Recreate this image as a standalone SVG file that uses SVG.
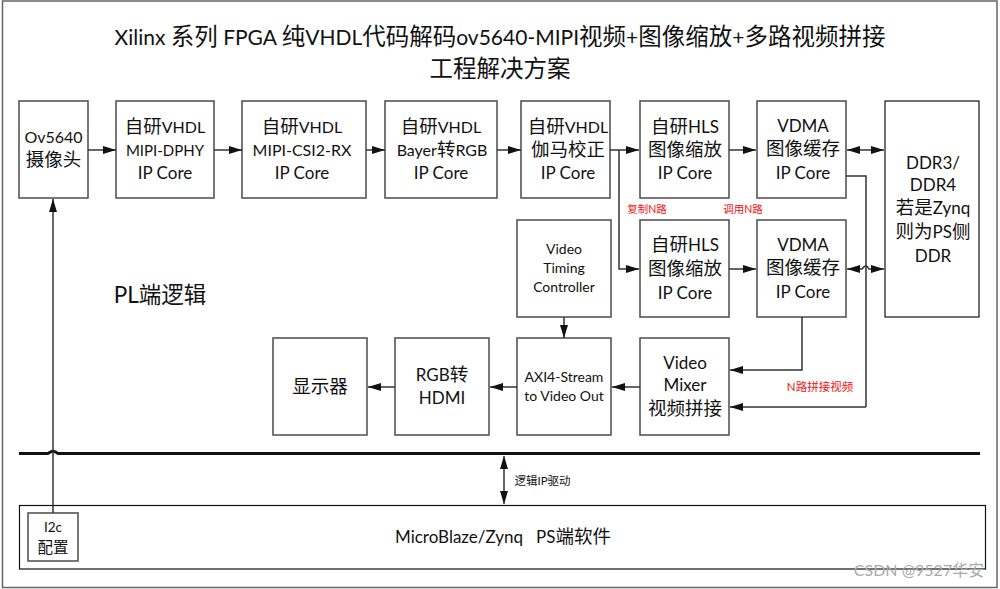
<svg xmlns="http://www.w3.org/2000/svg" width="1000" height="589" viewBox="0 0 1000 589">
<defs>
<style>
text{font-family:"Lato","Noto Sans CJK SC",sans-serif;text-anchor:middle;fill:#111;white-space:pre}
.b{fill:#fff;stroke:#555;stroke-width:1.6}
.k{fill:#fff;stroke:#111;stroke-width:1.2}
.t{font-size:17px}
.z{font-size:18.500px}
.h{font-size:23.500px}
.l{font-size:21px}
.n{font-size:15px}
.m{font-size:16px}
.x{font-size:14px}
.r{font-size:10.500px;fill:#f01010}
.c{fill:none;stroke:#333;stroke-width:1.5}
</style>
<marker id="a" markerWidth="14" markerHeight="10" refX="13" refY="4" orient="auto-start-reverse" markerUnits="userSpaceOnUse"><path d="M0 0L13 4L0 8Z" fill="#111"/></marker>
</defs>
<rect width="1000" height="589" fill="#fff"/>
<rect id="frame" x="2.500" y="1" width="994.500" height="586.500" fill="#fff" stroke="#666" stroke-width="1.500"/>
<g id="title"><text class="h" x="500" y="45"><tspan class="l">Xilinx </tspan>系列<tspan class="l"> FPGA </tspan>纯<tspan class="l">VHDL</tspan>代码解码<tspan class="l">ov5640-MIPI</tspan>视频<tspan class="l">+</tspan>图像缩放<tspan class="l">+</tspan>多路视频拼接</text>
<text class="h" x="500" y="77">工程解决方案</text></g>
<g id="ov5640"><rect class="b" x="19" y="101" width="69" height="97"/><text class="m" x="53.500" y="143">Ov5640</text><text class="z" x="53.500" y="166">摄像头</text></g>
<g id="dphy"><rect class="b" x="116" y="101" width="98" height="97"/><text class="m" x="165" y="133"><tspan class="z">自研</tspan>VHDL</text><text class="n" x="165" y="156">MIPI-DPHY</text><text class="t" x="165" y="179">IP Core</text></g>
<g id="csi"><rect class="b" x="242" y="101" width="124" height="97"/><text class="m" x="302" y="133"><tspan class="z">自研</tspan>VHDL</text><text class="m" x="302" y="156">MIPI-CSI2-RX</text><text class="t" x="302" y="179">IP Core</text></g>
<g id="bayer"><rect class="b" x="385" y="101" width="112" height="97"/><text class="m" x="441" y="133"><tspan class="z">自研</tspan>VHDL</text><text class="m" x="442" y="156">Bayer<tspan class="z">转</tspan>RGB</text><text class="t" x="441" y="179">IP Core</text></g>
<g id="gamma"><rect class="b" x="521" y="101" width="89" height="97"/><text class="m" x="568" y="133"><tspan class="z">自研</tspan>VHDL</text><text class="z" x="568" y="156">伽马校正</text><text class="t" x="568" y="179">IP Core</text></g>
<g id="hls1"><rect class="b" x="640" y="101" width="89" height="97"/><text class="t" x="685" y="133"><tspan class="z">自研</tspan>HLS</text><text class="z" x="685" y="156">图像缩放</text><text class="t" x="685" y="179">IP Core</text></g>
<g id="vdma1"><rect class="b" x="757" y="101" width="89" height="97"/><text class="t" x="803" y="132">VDMA</text><text class="z" x="803" y="155">图像缓存</text><text class="t" x="803" y="179">IP Core</text></g>
<g id="ddr"><rect class="k" x="885" y="101" width="94" height="216"/><text class="t" x="933" y="169">DDR3/</text><text class="t" x="933" y="191">DDR4</text><text class="z" x="933" y="214">若是<tspan class="t">Zynq</tspan></text><text class="z" x="933" y="238">则为<tspan class="t">PS</tspan>侧</text><text class="t" x="933" y="262">DDR</text></g>
<g id="vtc"><rect class="b" x="517" y="220" width="94" height="97"/><text class="x" x="564" y="254">Video</text><text class="x" x="564" y="273">Timing</text><text class="x" x="564" y="292">Controller</text></g>
<g id="hls2"><rect class="b" x="640" y="220" width="89" height="97"/><text class="t" x="685" y="251"><tspan class="z">自研</tspan>HLS</text><text class="z" x="685" y="275">图像缩放</text><text class="t" x="685" y="299">IP Core</text></g>
<g id="vdma2"><rect class="b" x="757" y="220" width="89" height="97"/><text class="t" x="803" y="251">VDMA</text><text class="z" x="803" y="274">图像缓存</text><text class="t" x="803" y="298">IP Core</text></g>
<g id="mixer"><rect class="b" x="640" y="338" width="89" height="97"/><text class="t" x="685" y="369">Video</text><text class="t" x="685" y="391">Mixer</text><text class="z" x="685" y="415">视频拼接</text></g>
<g id="axi"><rect class="b" x="517" y="338" width="94" height="97"/><text class="x" x="564" y="382">AXI4-Stream</text><text class="x" x="564" y="401">to Video Out</text></g>
<g id="rgb"><rect class="b" x="395" y="338" width="94" height="97"/><text class="t" x="442" y="381">RGB<tspan class="z">转</tspan></text><text class="t" x="442" y="404">HDMI</text></g>
<g id="display"><rect class="b" x="273" y="338" width="94" height="97"/><text class="z" x="320" y="393">显示器</text></g>
<g id="ps"><rect class="k" x="19.500" y="505.500" width="966" height="63.500"/><text class="t" x="503" y="543">MicroBlaze/Zynq   PS<tspan class="z">端软件</tspan></text></g>
<g id="i2c"><rect class="b" x="28" y="513" width="50" height="48"/><text x="53" y="532" font-size="13.500">I2c</text><text x="53" y="553" font-size="15.500">配置</text></g>
<g id="connectors">
<path class="c" marker-end="url(#a)" d="M88 150H116"/>
<path class="c" marker-end="url(#a)" d="M214 150H242"/>
<path class="c" marker-end="url(#a)" d="M366 150H385"/>
<path class="c" marker-end="url(#a)" d="M497 150H521"/>
<path class="c" marker-end="url(#a)" d="M610 150H639"/>
<path class="c" marker-end="url(#a)" d="M619 150V269H639"/>
<path class="c" marker-end="url(#a)" d="M729 150H756"/>
<path class="c" marker-end="url(#a)" d="M729 269H756"/>
<path class="c" marker-start="url(#a)" marker-end="url(#a)" d="M847 150H884"/>
<path class="c" marker-start="url(#a)" marker-end="url(#a)" d="M847 269H862Q866 263 869 269H884"/>
<path class="c" d="M846 176H866V407"/>
<path class="c" marker-end="url(#a)" d="M866 407H730"/>
<path class="c" marker-end="url(#a)" d="M802 317V370H730"/>
<path class="c" marker-end="url(#a)" d="M564 317V338"/>
<path class="c" marker-end="url(#a)" d="M640 387H612"/>
<path class="c" marker-end="url(#a)" d="M517 387H490"/>
<path class="c" marker-end="url(#a)" d="M395 387H368"/>
<path d="M19 453.500H48Q53 449 58 453.500H980" fill="none" stroke="#111" stroke-width="3"/>
<path class="c" marker-end="url(#a)" d="M53 513V199"/>
<path class="c" marker-start="url(#a)" marker-end="url(#a)" d="M504 456V504"/>
</g>
<g id="labels">
<text x="160" y="303" font-size="22.500">PL端逻辑</text>
<text class="r" x="647" y="213">复制N路</text>
<text class="r" x="743" y="213">调用N路</text>
<text class="r" x="820" y="391" style="font-size:11.500px">N路拼接视频</text>
<text x="542.500" y="485" font-size="11.500">逻辑IP驱动</text>
<text x="919" y="576" font-size="16" style="fill:#aaa">CSDN @9527华安</text>
</g>
</svg>
